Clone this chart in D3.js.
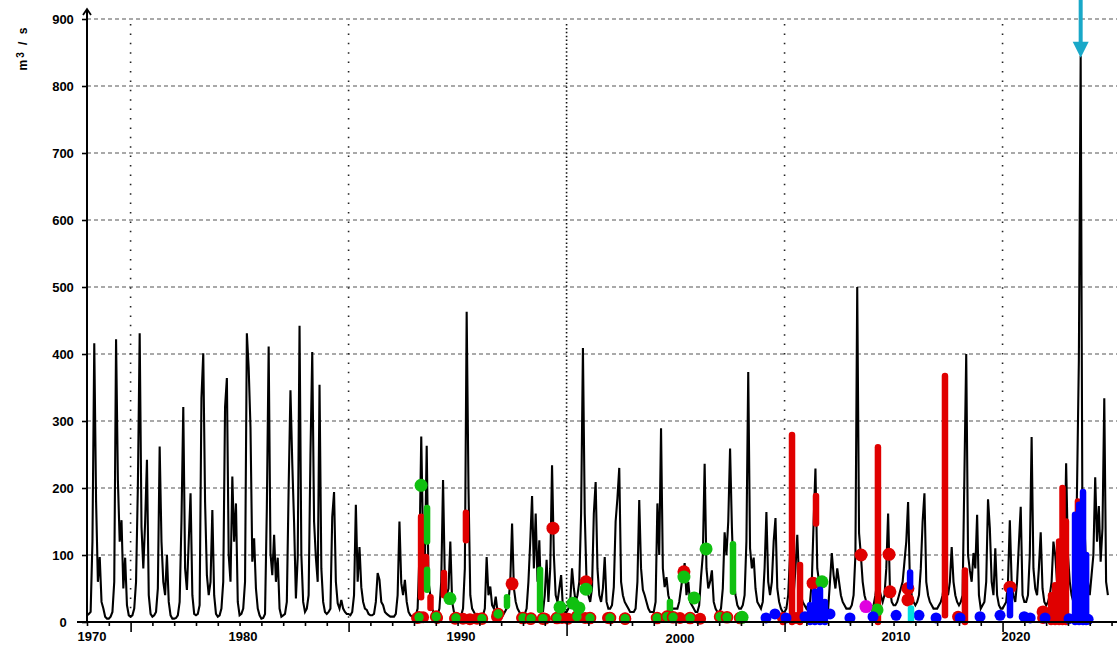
<!DOCTYPE html>
<html lang="en">
<head>
  <meta charset="UTF-8">
  <style>
    body { margin: 0; background: #fff; }
    text { font-family: "Liberation Sans", Arial, sans-serif; font-weight: bold; font-size: 13px; fill: #000; }
    .hgrid line { stroke: #555; stroke-dasharray: 4,3; stroke-width: 1.2; }
    .vgrid line { stroke: #222; stroke-dasharray: 1.5,7.9; stroke-width: 1.6; }
    .vgrid line.dense { stroke: #111; stroke-dasharray: 1.5,2.4; stroke-width: 1.6; }
    .flow { fill: none; stroke: #000; stroke-width: 2.1; }
    .axis path { display: none; }
    .axis line { stroke: #000; stroke-width: 1.6; }
  </style>
</head>
<body>
  <svg id="chart" width="1117" height="646"></svg>
  <script src="https://cdnjs.cloudflare.com/ajax/libs/d3/7.8.5/d3.min.js"></script>
  <script>
    // monthly discharge (m3/s), one row per year, from the start of the axis
    const flowByYear = [
      [10,12,15,120,416,180,60,97,30,20,8,5],
      [5,8,15,60,422,212,120,152,50,96,25,10],
      [8,10,20,60,202,431,142,80,149,242,40,12],
      [8,10,15,50,262,120,60,40,100,30,10,5],
      [5,6,10,30,150,321,80,48,120,192,40,12],
      [10,12,25,334,401,179,70,40,60,167,40,12],
      [8,10,20,60,321,364,100,60,217,120,177,30],
      [10,12,20,60,431,379,290,90,125,50,20,10],
      [5,6,12,170,411,103,70,130,60,96,20,8],
      [10,12,30,200,346,237,148,35,97,442,100,30],
      [15,20,40,249,403,150,96,60,354,80,30,15],
      [12,15,20,157,194,60,28,20,33,20,15,12],
      [12,10,15,40,175,60,112,52,30,20,18,12],
      [10,10,12,30,73,63,30,25,15,12,10,8],
      [8,8,12,40,150,58,40,63,30,15,10,8],
      [8,10,20,100,277,120,90,263,60,40,20,12],
      [10,10,20,60,212,60,40,50,120,30,15,10],
      [8,8,10,20,80,463,200,40,20,15,10,8],
      [8,8,10,20,97,40,53,25,20,38,15,10],
      [10,10,15,20,30,60,147,50,30,20,15,10],
      [10,12,20,60,120,188,80,162,60,122,30,15],
      [40,93,30,80,234,100,40,30,50,70,20,15],
      [15,20,30,80,50,30,40,60,162,409,162,60],
      [40,30,50,162,209,80,40,30,50,97,30,20],
      [20,25,52,150,185,230,60,40,30,25,20,15],
      [15,15,20,60,182,80,48,40,30,20,15,15],
      [15,30,177,100,289,80,52,67,40,30,20,20],
      [20,20,30,50,70,88,40,60,30,25,20,15],
      [15,25,67,100,236,80,50,60,77,30,20,15],
      [15,20,50,134,100,150,259,142,60,40,25,20],
      [20,25,40,120,373,110,80,96,50,30,25,20],
      [30,80,164,60,40,60,120,155,50,30,20,15],
      [15,20,40,100,60,40,80,130,60,40,30,25],
      [20,25,30,60,150,229,80,60,40,30,25,20],
      [20,60,103,70,50,80,60,40,30,25,20,20],
      [20,25,40,100,500,133,100,60,40,30,25,20],
      [20,25,40,60,50,40,30,40,80,162,50,30],
      [25,25,30,40,50,60,90,120,179,60,40,30],
      [25,30,40,80,150,192,60,40,30,25,20,20],
      [20,25,30,40,60,50,40,60,112,60,40,30],
      [25,30,40,219,400,100,77,60,103,80,160,40],
      [20,25,30,60,183,140,60,40,110,40,25,20],
      [20,25,30,60,152,60,40,30,60,118,172,40],
      [30,30,40,100,276,80,50,40,80,134,50,30],
      [25,30,40,60,120,100,60,40,30,40,80,237],
      [100,60,40,30,40,200,390,845,120,150,80,60],
      [40,70,100,216,120,173,90,140,334,60,40]
    ]

    // highlighted periods: [month index, low, high]
    const redBars = [[183.9,37,157],[186.6,78,97],[189.1,21,37],[196.5,40,73],[208.6,122,163],
      [383.1,0,8],[388.1,0,279],[392.5,0,85],[401.3,147,188],[435.4,0,261],[472.3,10,367],
      [483.3,0,77],[530.7,0,40],[532.9,0,55],[535.1,0,120],[537.0,0,200],[538.9,0,150],[545.5,157,180]]
    const greenBars = [[187.2,120,170],[187.2,48,78],[231.2,24,37],[249.4,18,78],[355.6,45,116],[320.9,5,30]]
    const blueBars = [[398,0,25],[400.7,0,45],[403.5,0,48],[406.2,0,30],[453.1,53,74],[508.1,10,47],
      [543.9,0,160],[546.1,0,175],[548.3,0,194],[550.0,0,100]]
    const cyanBars = [[453.6,3,20]]

    // single samples: [month index, value]
    const redDots = [[256.5,140],[234.0,57],[274.7,60],[328.6,75],[399.7,58],[426.1,100],[441.5,101],
      [442.0,45],[451.9,50],[451.9,33],[508.1,52],[526.3,15]]
    const greenDots = [[183.9,204],[199.8,35],[260.4,22],[267.5,28],[270.8,21],[274.7,49],[328.6,67],
      [334.2,36],[340.8,109],[360.6,7],[404.6,60],[434.9,18]]
    const magentaDots = [[428.8,23]]
    const redLow = [[181.7,6],[185.0,7],[192.7,6],[202.6,5],[207.0,5],[210.8,4],[214.7,5],[225.7,8],
      [239.5,6],[243.9,5],[252.1,5],[261.5,6],[264.8,5],[274.2,6],[286.8,6],[296.2,5],[326.4,6],
      [337.5,5],[383.1,6],[390.3,6],[479.5,8],[526.3,6]]
    const greenLow = [[182.8,7],[192.2,8],[203.1,6],[217.4,5],[226.3,12],[240.0,6],[244.4,5],[251.0,5],
      [258.7,6],[269.7,8],[276.9,6],[287.9,6],[296.2,5],[313.8,6],[319.3,8],[322.6,7],[332.0,6],
      [348.5,8],[352.3,7],[359.5,6]]
    const blueLow = [[373.8,6],[378.7,12],[384.8,6],[395.2,8],[409.0,12],[420.0,6],[432.7,8],[445.4,10],
      [458.0,10],[467.4,6],[480.6,6],[491.6,8],[502.6,10],[515.9,8],[519.2,6],[527.4,6],[540.6,5],[551.1,4]]

    // axis
    const yTicks = [0,100,200,300,400,500,600,700,800,900]
    const gridMonths = [24,144,264,384,504]
    const xLabels = ['1970','1980','1990','2000','2010','2020']
    const xLabelAt = [2.75,85.9,205.9,326.4,445.3,511.4]

    const flow = flowByYear.flat()

    const svg = d3.select('#chart')
    const xScale = d3.scaleLinear().domain([0, 567]).range([87, 1117])
    const yScale = d3.scaleLinear().domain([0, 900]).range([622, 19])

    // grid
    svg.append('g').attr('class', 'hgrid')
      .selectAll('line').data(yTicks.filter(d => d > 0)).enter().append('line')
        .attr('x1', xScale(0)).attr('x2', xScale(567))
        .attr('y1', d => yScale(d)).attr('y2', d => yScale(d))
    svg.append('g').attr('class', 'vgrid')
      .selectAll('line').data(gridMonths).enter().append('line')
        .attr('class', d => d === 264 ? 'dense' : null)
        .attr('x1', d => xScale(d)).attr('x2', d => xScale(d))
        .attr('y1', yScale(900) + 5).attr('y2', yScale(0))

    // discharge line
    const line = d3.line()
      .x((d, i) => xScale(i))
      .y(d => yScale(d))
    svg.append('path').attr('class', 'flow').datum(flow).attr('d', line)

    // highlighted bars and samples
    function bars(data, color) {
      svg.append('g').selectAll('line').data(data).enter().append('line')
        .attr('x1', d => xScale(d[0])).attr('x2', d => xScale(d[0]))
        .attr('y1', d => yScale(d[1])).attr('y2', d => yScale(d[2]))
        .attr('stroke', color).attr('stroke-width', 6.5).attr('stroke-linecap', 'round')
    }
    function dots(data, color, r, ring) {
      svg.append('g').selectAll('circle').data(data).enter().append('circle')
        .attr('cx', d => xScale(d[0])).attr('cy', d => yScale(d[1])).attr('r', r)
        .attr('fill', color)
        .attr('stroke', ring || 'none').attr('stroke-width', ring ? 1.6 : 0)
    }
    const RED = '#e00000', GREEN = '#10c010', BLUE = '#0000ff'
    bars(redBars, RED)
    dots(redLow, RED, 6)
    dots(redDots, RED, 6.5)
    bars(greenBars, GREEN)
    dots(greenLow, GREEN, 5.5, RED)
    dots(greenDots, GREEN, 6.5)
    dots(magentaDots, '#e000e0', 6.5)
    bars(blueBars, BLUE)
    dots(blueLow, BLUE, 5.5)
    bars(cyanBars, '#00e0e0')

    // x axis
    svg.append('g').attr('class', 'axis')
        .attr('transform', `translate(0, ${yScale(0)})`)
        .call(d3.axisBottom(xScale).tickValues(d3.range(0, 567, 12)).tickSize(4).tickFormat(''))
      .selectAll('.tick line')
        .attr('y2', d => gridMonths.includes(d) ? (d === 264 ? 14 : 10) : 4)
    svg.append('line')
      .attr('x1', xScale(0) - 10).attr('x2', xScale(567))
      .attr('y1', yScale(0)).attr('y2', yScale(0))
      .attr('stroke', '#000').attr('stroke-width', 2.2)
    svg.append('g').selectAll('text').data(xLabels).enter().append('text')
        .attr('x', (d, i) => xScale(xLabelAt[i]))
        .attr('y', d => d === '2000' ? 643 : 641)
        .attr('text-anchor', 'middle')
        .text(d => d)

    // y axis
    const yAxis = svg.append('g').attr('class', 'axis')
        .attr('transform', `translate(${xScale(0)}, 0)`)
        .call(d3.axisLeft(yScale).tickValues(yTicks).tickSize(5).tickPadding(14))
    yAxis.selectAll('text')
        .attr('x', -24).attr('text-anchor', 'middle')
        .style('font-size', '13px').style('font-family', '"Liberation Sans", Arial, sans-serif')
    svg.append('line')
      .attr('x1', xScale(0)).attr('x2', xScale(0))
      .attr('y1', yScale(0)).attr('y2', 9)
      .attr('stroke', '#000').attr('stroke-width', 2)
    svg.append('path')
      .attr('d', `M${xScale(0) - 4},15 L${xScale(0)},9 L${xScale(0) + 4},15`)
      .attr('fill', 'none').attr('stroke', '#000').attr('stroke-width', 1.8)

    const unit = svg.append('text')
      .attr('transform', `translate(27, 48) rotate(-90)`)
      .attr('text-anchor', 'middle')
      .style('font-size', '12px').style('letter-spacing', '2px')
    unit.append('tspan').text('m')
    unit.append('tspan').attr('dy', -3).style('font-size', '10px').text('3')
    unit.append('tspan').attr('dy', 3).text(' / s')

    // arrow at the highest flow
    const peak = d3.maxIndex(flow)
    const px = xScale(peak), py = yScale(flow[peak]) + 2
    svg.append('line')
      .attr('x1', px).attr('x2', px).attr('y1', 0).attr('y2', py - 14)
      .attr('stroke', '#19a8c8').attr('stroke-width', 4)
    svg.append('path')
      .attr('d', `M${px - 8},${py - 16} L${px + 8},${py - 16} L${px},${py} Z`)
      .attr('fill', '#19a8c8')
  </script>
</body>
</html>
